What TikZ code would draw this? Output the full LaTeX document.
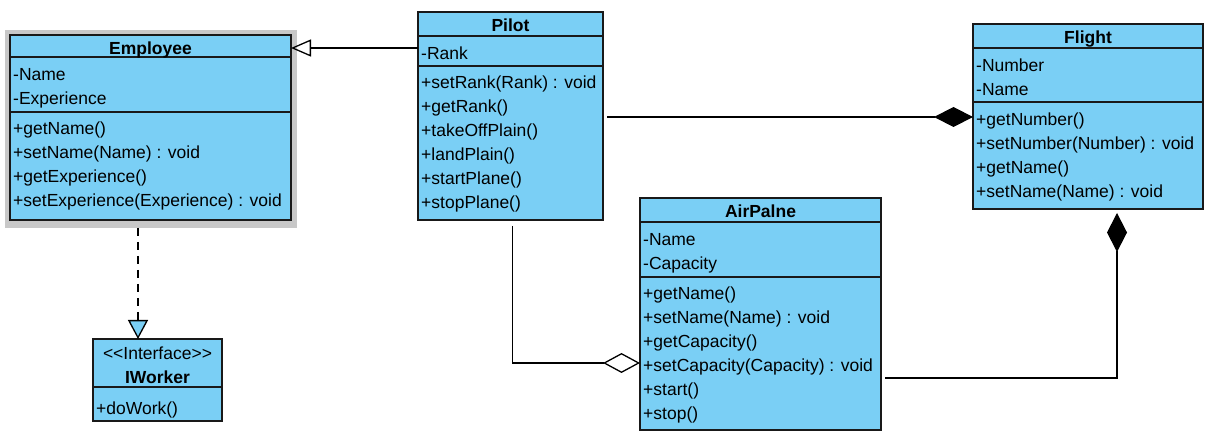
\documentclass[tikz,border=0pt]{standalone}
\usepackage{fontspec}
\setmainfont{Liberation Sans}
\usetikzlibrary{arrows.meta,calc}
\definecolor{umlblue}{RGB}{122,207,245}
\definecolor{umlline}{RGB}{25,25,25}
\definecolor{shadowgray}{RGB}{200,200,200}
\begin{document}
\begin{tikzpicture}[x=1pt,y=-1pt,
  classbox/.style={draw=umlline, line width=1.3pt, fill=umlblue, anchor=north west, inner sep=0pt, outer sep=0pt},
  sepline/.style={draw=umlline, line width=1.2pt},
  row/.style={anchor=west, inner sep=0pt, text height=12.5pt, text depth=0pt, font=\fontsize{17.5}{20}\selectfont},
  ctitle/.style={anchor=center, inner sep=0pt, text height=12.5pt, text depth=0pt, font=\fontsize{17.5}{20}\selectfont\bfseries},
  conn/.style={draw=black, line width=1.3pt},
  realize/.style={conn, dash pattern=on 8pt off 6pt}
]
\useasboundingbox (0,0) rectangle (1207,435);

% ---------- Employee ----------
\fill[shadowgray] (5,30) rectangle (297,228);
\node[classbox, minimum width=281pt, minimum height=185pt] (emp) at (10,35) {};
\draw[sepline] ($(emp.north west)+(0,22)$) -- ($(emp.north east)+(0,22)$);
\draw[sepline] ($(emp.north west)+(0,77)$) -- ($(emp.north east)+(0,77)$);
\node[ctitle] (e0) at ($(emp.north)+(0,13)$) {Employee};
\node[row] (e1) at ($(emp.north west)+(3,39)$) {-Name};
\node[row] (e2) at ($(emp.north west)+(3,63)$) {-Experience};
\node[row] (e3) at ($(emp.north west)+(3,93)$) {+getName()};
\node[row] (e4) at ($(emp.north west)+(3,117)$) {+setName(Name) : void};
\node[row] (e5) at ($(emp.north west)+(3,141)$) {+getExperience()};
\node[row] (e6) at ($(emp.north west)+(3,165)$) {+setExperience(Experience) : void};

% ---------- Pilot ----------
\node[classbox, minimum width=185pt, minimum height=208pt] (pilot) at (418,12) {};
\draw[sepline] ($(pilot.north west)+(0,24)$) -- ($(pilot.north east)+(0,24)$);
\draw[sepline] ($(pilot.north west)+(0,54)$) -- ($(pilot.north east)+(0,54)$);
\node[ctitle] (p0) at ($(pilot.north)+(0,13)$) {Pilot};
\node[row] (p1) at ($(pilot.north west)+(3,41)$) {-Rank};
\node[row] (p2) at ($(pilot.north west)+(3,70)$) {+setRank(Rank) : void};
\node[row] (p3) at ($(pilot.north west)+(3,94)$) {+getRank()};
\node[row] (p4) at ($(pilot.north west)+(3,118)$) {+takeOffPlain()};
\node[row] (p5) at ($(pilot.north west)+(3,142)$) {+landPlain()};
\node[row] (p6) at ($(pilot.north west)+(3,166)$) {+startPlane()};
\node[row] (p7) at ($(pilot.north west)+(3,190)$) {+stopPlane()};

% ---------- Flight ----------
\node[classbox, minimum width=230pt, minimum height=185pt] (flight) at (973,24) {};
\draw[sepline] ($(flight.north west)+(0,24)$) -- ($(flight.north east)+(0,24)$);
\draw[sepline] ($(flight.north west)+(0,78)$) -- ($(flight.north east)+(0,78)$);
\node[ctitle] (f0) at ($(flight.north)+(0,13)$) {Flight};
\node[row] (f1) at ($(flight.north west)+(3,41)$) {-Number};
\node[row] (f2) at ($(flight.north west)+(3,65)$) {-Name};
\node[row] (f3) at ($(flight.north west)+(3,95)$) {+getNumber()};
\node[row] (f4) at ($(flight.north west)+(3,119)$) {+setNumber(Number) : void};
\node[row] (f5) at ($(flight.north west)+(3,143)$) {+getName()};
\node[row] (f6) at ($(flight.north west)+(3,167)$) {+setName(Name) : void};

% ---------- AirPalne ----------
\node[classbox, minimum width=241pt, minimum height=232pt] (plane) at (640,198) {};
\draw[sepline] ($(plane.north west)+(0,24)$) -- ($(plane.north east)+(0,24)$);
\draw[sepline] ($(plane.north west)+(0,79)$) -- ($(plane.north east)+(0,79)$);
\node[ctitle] (a0) at ($(plane.north)+(0,13)$) {AirPalne};
\node[row] (a1) at ($(plane.north west)+(3,41)$) {-Name};
\node[row] (a2) at ($(plane.north west)+(3,65)$) {-Capacity};
\node[row] (a3) at ($(plane.north west)+(3,95)$) {+getName()};
\node[row] (a4) at ($(plane.north west)+(3,119)$) {+setName(Name) : void};
\node[row] (a5) at ($(plane.north west)+(3,143)$) {+getCapacity()};
\node[row] (a6) at ($(plane.north west)+(3,167)$) {+setCapacity(Capacity) : void};
\node[row] (a7) at ($(plane.north west)+(3,191)$) {+start()};
\node[row] (a8) at ($(plane.north west)+(3,215)$) {+stop()};

% ---------- IWorker ----------
\node[classbox, minimum width=129pt, minimum height=82pt] (iworker) at (93,339) {};
\draw[sepline] ($(iworker.north west)+(0,48)$) -- ($(iworker.north east)+(0,48)$);
\node[row, anchor=center] (i0) at ($(iworker.north)+(0,14)$) {<{}<Interface>{}>};
\node[ctitle] (i1) at ($(iworker.north)+(0,38)$) {IWorker};
\node[row] (i2) at ($(iworker.north west)+(3,69)$) {+doWork()};

% ---------- Connectors ----------
% generalization Pilot -> Employee
\draw[conn, -{Triangle[open, length=20pt, width=17pt]}] (pilot.west |- e0) -- (e0 -| emp.east);
% composition Pilot -> Flight
\draw[conn, -{Diamond[length=39pt, width=20pt]}] ([xshift=4pt,yshift=2pt]pilot.east |- f3) -- ([yshift=2pt]f3 -| flight.west);
% aggregation Pilot -> AirPalne
\draw[conn, -{Diamond[open, length=37pt, width=20pt]}] ([xshift=2pt,yshift=-6pt]pilot.south) |- ([yshift=2pt]a6 -| plane.west);
% composition AirPalne -> Flight
\draw[conn, -{Diamond[length=39pt, width=20pt]}] ([xshift=4pt,yshift=-64pt]plane.east) -| ([xshift=29pt,yshift=-4pt]flight.south);
% realization Employee -> IWorker
\coordinate (rs) at ([xshift=-12.5pt,yshift=-8pt]emp.south);
\draw[realize, -{Triangle[length=19pt, width=20pt, fill=umlblue]}] (rs) -- (rs |- iworker.north);
\end{tikzpicture}
\end{document}
